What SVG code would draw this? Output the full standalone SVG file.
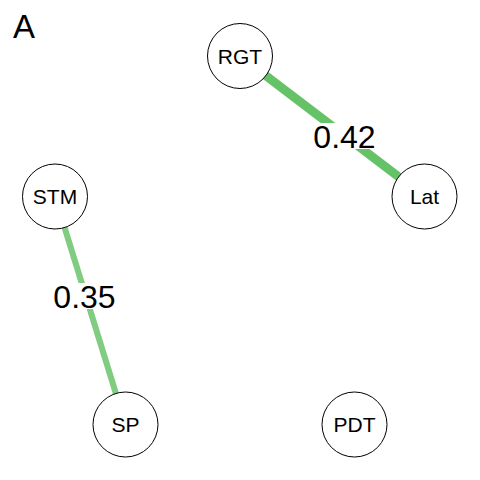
<svg xmlns="http://www.w3.org/2000/svg" width="480" height="480" viewBox="0 0 480 480">
<style>
.node circle{fill:#fff;stroke:#000;stroke-width:1}
.node text{font-family:"Liberation Sans",Arial,sans-serif;font-size:21px;text-anchor:middle;fill:#000}
.elab rect{fill:#fff}
.elab text{font-family:"Liberation Sans",Arial,sans-serif;font-size:32px;text-anchor:middle;fill:#000}
</style>
<rect width="480" height="480" fill="#fff"/>
<text x="13" y="38" font-family="'Liberation Sans',Arial,sans-serif" font-size="33" fill="#000">A</text>
<g id="connectors">
<line x1="240" y1="56" x2="424.5" y2="196.5" stroke="#66c266" stroke-width="9"/>
<line x1="55" y1="196.5" x2="125.5" y2="424.5" stroke="#80cc80" stroke-width="6"/>
<g class="elab"><rect x="312" y="123" width="65" height="26"/><text x="344.5" y="148">0.42</text></g>
<g class="elab"><rect x="52" y="283" width="65" height="26"/><text x="84.5" y="308">0.35</text></g>
</g>
<g id="RGT" class="node"><circle cx="240" cy="56" r="32.5"/><text x="240" y="63.5">RGT</text></g>
<g id="Lat" class="node"><circle cx="424.5" cy="196.5" r="32.5"/><text x="424.5" y="204">Lat</text></g>
<g id="STM" class="node"><circle cx="55" cy="196.5" r="32.5"/><text x="55" y="204">STM</text></g>
<g id="SP" class="node"><circle cx="125.5" cy="424.5" r="32.5"/><text x="125.5" y="432">SP</text></g>
<g id="PDT" class="node"><circle cx="354.5" cy="424.5" r="32.5"/><text x="354.5" y="432">PDT</text></g>
</svg>
